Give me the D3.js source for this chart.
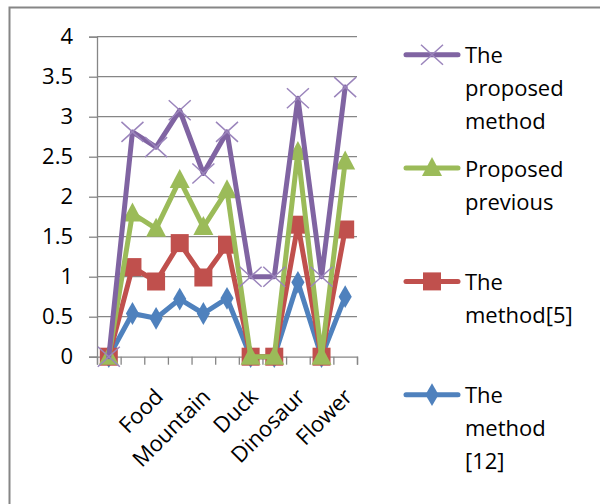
<!DOCTYPE html>
<html>
<head>
<meta charset="utf-8">
<script src="https://cdn.jsdelivr.net/npm/d3@7"></script>
<style>
  html, body { margin: 0; padding: 0; background: #fff; }
  text { font-family: "Open Sans", "Noto Sans", sans-serif; fill: #000; }
</style>
</head>
<body>
<svg id="chart" width="600" height="504"></svg>
<script>
// ---- data ----
const categories = d3.range(11); // 11 category positions on the x axis
const tickLabels = ["", "", "Food", "", "Mountain", "", "Duck", "", "Dinosaur", "", "Flower"];
const yTicks = [0, 0.5, 1, 1.5, 2, 2.5, 3, 3.5, 4];

const proposed      = [0, 2.81, 2.62, 3.08, 2.29, 2.81, 1.0, 1.0, 3.23, 1.0, 3.37];
const proposedPrev  = [0, 1.79, 1.60, 2.21, 1.62, 2.08, 0, 0, 2.56, 0, 2.44];
const method5       = [0, 1.12, 0.94, 1.42, 0.99, 1.40, 0, 0, 1.65, 0, 1.59];
const method12      = [0, 0.54, 0.48, 0.72, 0.54, 0.73, 0, 0, 0.93, 0, 0.75];

const seriesNames = [["The", "proposed", "method"], ["Proposed", "previous"], ["The", "method[5]"], ["The", "method", "[12]"]];

// ---- setup ----
const svg = d3.select("#chart");
const plotLeft = 97, plotRight = 357, plotTop = 36.7, plotBottom = 356.7;

svg.append("rect").attr("x", 9.5).attr("y", 7.5).attr("width", 600).attr("height", 600)
  .attr("fill", "#fff").attr("stroke", "#868686").attr("stroke-width", 2);

const x = d3.scaleBand().domain(categories).range([plotLeft, plotRight]).padding(0);
const xEdge = d3.scaleLinear().domain([0, categories.length]).range([plotLeft, plotRight]);
const y = d3.scaleLinear().domain([0, 4]).range([plotBottom, plotTop]);
const cx = i => x(i) + x.bandwidth() / 2;

// gridlines
svg.append("g").selectAll("line").data(yTicks.filter(v => v > 0)).join("line")
  .attr("x1", plotLeft).attr("x2", plotRight)
  .attr("y1", d => y(d)).attr("y2", d => y(d))
  .attr("stroke", "#868686").attr("stroke-width", 1.3);

// y axis
const yAxis = svg.append("g").attr("transform", `translate(${plotLeft},0)`)
  .call(d3.axisLeft(y).tickValues(yTicks).tickSize(8).tickPadding(16).tickFormat(d3.format("")));
yAxis.select(".domain").attr("stroke", "#868686").attr("stroke-width", 1.3);
yAxis.selectAll(".tick line").attr("stroke", "#868686").attr("stroke-width", 1.3);
yAxis.selectAll(".tick text").attr("font-size", 22).attr("font-family", "Open Sans").attr("fill", "#000");

// x axis (tick marks between categories)
const xAxis = svg.append("g").attr("transform", `translate(0,${plotBottom})`)
  .call(d3.axisBottom(xEdge).tickValues(d3.range(categories.length + 1)).tickSize(8).tickFormat(""));
xAxis.select(".domain").attr("stroke", "#868686").attr("stroke-width", 1.3);
xAxis.selectAll(".tick line").attr("stroke", "#868686").attr("stroke-width", 1.3);

// x labels
svg.append("g").selectAll("text").data(categories.filter(i => tickLabels[i])).join("text")
  .attr("transform", i => `translate(${cx(i) + 3},${plotBottom + 36}) rotate(-45)`)
  .attr("text-anchor", "end").attr("dy", "0.35em")
  .attr("font-size", 22)
  .text(i => tickLabels[i]);

// series
const series = [
  { name: seriesNames[3], values: method12, color: "#4F81BD", marker: "diamond" },
  { name: seriesNames[2], values: method5, color: "#C0504D", marker: "square" },
  { name: seriesNames[1], values: proposedPrev, color: "#9BBB59", marker: "triangle" },
  { name: seriesNames[0], values: proposed, color: "#8064A2", marker: "x" }
];

function drawMarker(g, type, color, px, py) {
  if (type === "diamond") {
    g.append("path").attr("d", d3.symbol(d3.symbolDiamond, 150)()).attr("transform", `translate(${px},${py})`).attr("fill", color);
  } else if (type === "square") {
    g.append("rect").attr("x", px - 9).attr("y", py - 9).attr("width", 18).attr("height", 18).attr("fill", color);
  } else if (type === "triangle") {
    g.append("path").attr("d", `M${px},${py - 11}L${px + 10},${py + 8}L${px - 10},${py + 8}Z`).attr("fill", color);
  } else if (type === "x") {
    g.append("path").attr("d", `M${px - 11},${py - 10}L${px + 11},${py + 10}M${px - 11},${py + 10}L${px + 11},${py - 10}`)
      .attr("stroke", "#9B85BC").attr("stroke-width", 1.5).attr("fill", "none");
  }
}

const line = d3.line().x((d, i) => cx(i)).y(d => y(d));
series.forEach(s => {
  const g = svg.append("g");
  g.append("path").datum(s.values).attr("d", line).attr("fill", "none")
    .attr("stroke", s.color).attr("stroke-width", 5).attr("stroke-linejoin", "round").attr("stroke-linecap", "round");
  s.values.forEach((v, i) => drawMarker(g, s.marker, s.color, cx(i), y(v)));
});

// legend (top to bottom: proposed, previous, method[5], method[12])
const legendOrder = [series[3], series[2], series[1], series[0]];
legendOrder.forEach((s, k) => {
  const baseY = 63.3 + k * 113.3;
  const g = svg.append("g");
  const ly = baseY - 8.5;
  g.append("line").attr("x1", 406).attr("x2", 458).attr("y1", ly).attr("y2", ly)
    .attr("stroke", s.color).attr("stroke-width", 5).attr("stroke-linecap", "round");
  drawMarker(g, s.marker, s.color, 432, ly);
  s.name.forEach((t, j) => {
    g.append("text").attr("x", 465).attr("y", baseY + j * 33).attr("font-size", 22).text(t);
  });
});
</script>
</body>
</html>
